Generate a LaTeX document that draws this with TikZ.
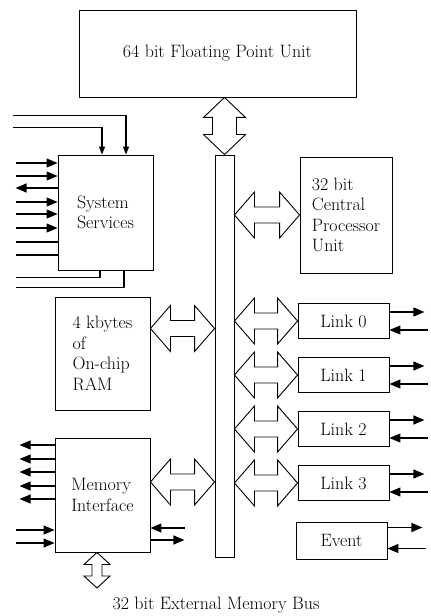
\documentclass[tikz,border=0pt]{standalone}
\usetikzlibrary{arrows.meta,calc}
\newcommand\unitfont{\fontsize{18}{20.5}\selectfont}
\tikzset{
 unit/.style={
 rectangle,
 draw,
 line width=0.9bp,
 inner sep=0pt,
 align=left,
 font=\unitfont
 },
 linkbox/.style={
 unit,
 align=center,
 minimum width=91bp,
 minimum height=35bp
 },
 busbar/.style={rectangle, draw, line width=0.9bp, minimum width=19bp, minimum height=402bp},
 fatarrow/.style={draw, line width=0.9bp, fill=white, line join=miter},
 sig/.style={line width=1.1bp},
 sigout/.style={sig, arrows={-Triangle[length=11bp,width=9bp]}},
 sigin/.style={sig, arrows={Triangle[length=11bp,width=9bp]-}},
 smallin/.style={sig, arrows={Triangle[length=8bp,width=6bp]-}}
}
\newcommand\fathor[2]{%
 \draw[fatarrow] let \p1=#1, \p2=#2 in
 (\x1,\y1) -- (\x1+20bp,\y1+23bp) -- (\x1+20bp,\y1+8bp) -- (\x2-20bp,\y1+8bp)
 -- (\x2-20bp,\y1+23bp) -- (\x2,\y1) -- (\x2-20bp,\y1-23bp) -- (\x2-20bp,\y1-8bp)
 -- (\x1+20bp,\y1-8bp) -- (\x1+20bp,\y1-23bp) -- cycle;}
\newcommand\fatver[5]{%
 \draw[fatarrow] let \p1=#1, \p2=#2 in
 (\x1,\y1) -- (\x1+#3,\y1-#5) -- (\x1+#4,\y1-#5) -- (\x1+#4,\y2+#5)
 -- (\x1+#3,\y2+#5) -- (\x1,\y2) -- (\x1-#3,\y2+#5) -- (\x1-#4,\y2+#5)
 -- (\x1-#4,\y1-#5) -- (\x1-#3,\y1-#5) -- cycle;}

\begin{document}
\begin{tikzpicture}[x=1bp, y=-1bp]
 \useasboundingbox (0,0) rectangle (430,616);

 \node[unit, align=center, minimum width=277bp, minimum height=87bp] (fpu) at (217.5,53.5) {64 bit Floating Point Unit};
 \node[busbar] (bus) at (224.5,356) {};
 \node[unit, minimum width=95bp, minimum height=115bp] (sys) at (105.5,212.5) {System\\Services};
 \node[unit, minimum width=92bp, minimum height=116bp] (cpu) at (346,215) {32 bit\\Central\\Processor\\Unit};
 \node[unit, minimum width=95bp, minimum height=113bp] (ram) at (102.5,353.5) {4 kbytes\\of\\On-chip\\RAM};
 \node[unit, minimum width=95bp, minimum height=114bp] (mem) at (102.5,495) {Memory\\Interface};
 \foreach \i in {0,...,3}
 \node[linkbox] (link\i) at (343.5,{321+54*\i}) {Link \i};
 \node[linkbox, minimum height=37bp] (event) at (341.5,540.5) {Event};
 \node[font=\unitfont] (extlabel) at (216,605) {32 bit External Memory Bus};
 \coordinate (extend) at (97,588);

 % bus connections
 \fatver{(bus.north |- fpu.south)}{(bus.north)}{21bp}{12bp}{20bp}
 \fathor{(bus.east |- cpu.west)}{(cpu.west)}
 \fathor{([yshift=25bp]ram.east)}{(bus.west)}
 \fathor{([yshift=13bp]mem.east)}{(bus.west)}
 \foreach \i in {0,...,3} {
 \fathor{(bus.east |- link\i.west)}{(link\i.west)}
 }
 \fatver{(mem.south -| extend)}{(extend)}{13bp}{5bp}{12bp}

 % system services signals
 \draw[smallin] (sys.north -| 126,0) |- ++(-113,-39);
 \draw[smallin] (sys.north -| 102,0) |- ++(-89,-27);
 \foreach \y in {163,176,202,214,228}
 \draw[sigin] (sys.west |- 0,\y) -- ++(-42,0);
 \draw[sigout] (sys.west |- 0,188) -- ++(-42,0);
 \foreach \y in {242,255}
 \draw[sig] (sys.west |- 0,\y) -- ++(-42,0);
 \draw[sig] (sys.south -| 100,0) |- ++(-84,7);
 \draw[sig] (sys.south -| 124,0) |- ++(-108,17);

 % memory interface signals
 \foreach \y in {445,459,472,486,499}
 \draw[sigout] (mem.west |- 0,\y) -- ++(-35,0);
 \foreach \y in {530,543}
 \draw[sigin] (mem.west |- 0,\y) -- ++(-39,0);
 \draw[sigin] (mem.east |- 0,528) -- ++(35,0);
 \draw[sigout] (mem.east |- 0,540) -- ++(34,0);

 % link signals
 \foreach \i in {0,...,3} {
 \draw[sigout] ([yshift=9bp]link\i.east) -- ++(35,0);
 \draw[sigin] ([yshift=-9bp]link\i.east) -- ++(39,0);
 }
 \draw[sigout] ([yshift=13bp]event.east) -- ++(35,0);
 \draw[sigin] ([yshift=-8bp]event.east) -- ++(39,0);
\end{tikzpicture}
\end{document}
